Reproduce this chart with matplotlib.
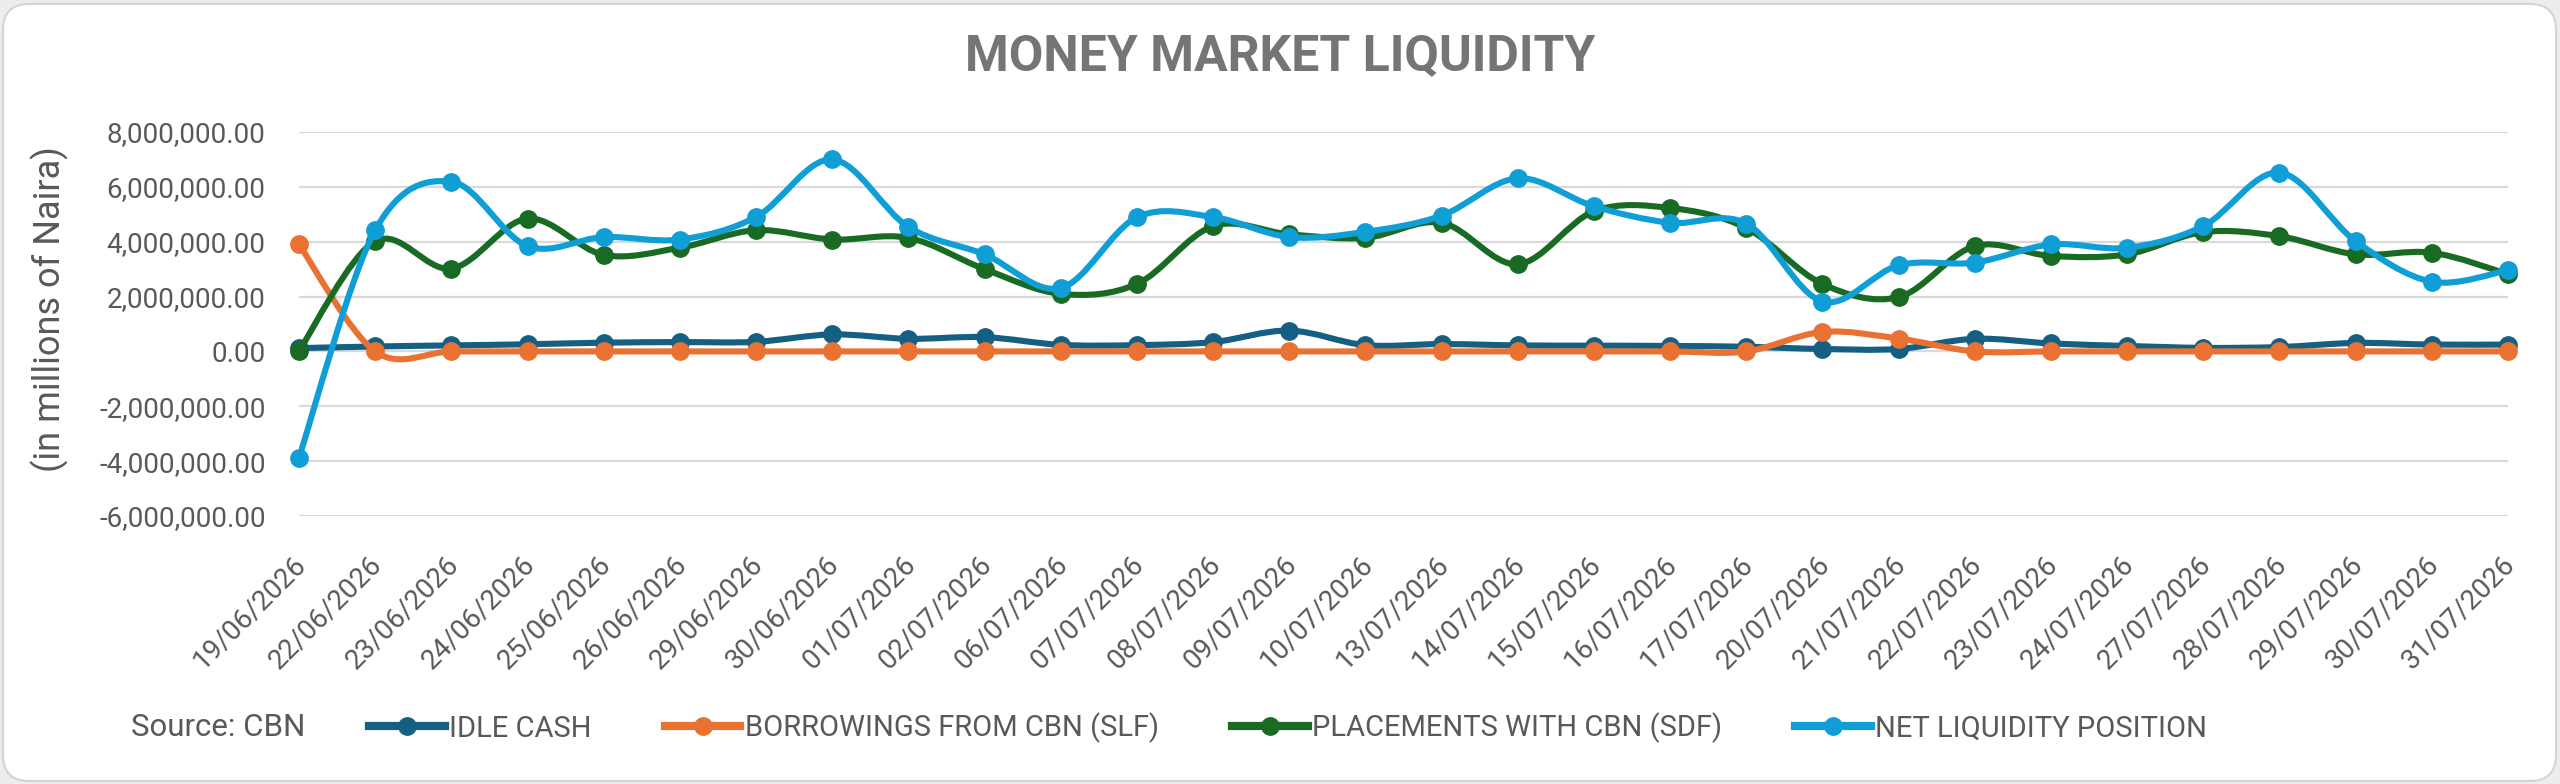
import matplotlib
matplotlib.use("Agg")
import matplotlib.pyplot as plt
from matplotlib.path import Path
from matplotlib.patches import PathPatch, FancyBboxPatch
from matplotlib.lines import Line2D
from matplotlib.ticker import FuncFormatter
import matplotlib.transforms as mtransforms

# ── data ──────────────────────────────────────────────────────────────────────
dates = [
    "19/06/2026", "22/06/2026", "23/06/2026", "24/06/2026", "25/06/2026",
    "26/06/2026", "29/06/2026", "30/06/2026", "01/07/2026", "02/07/2026",
    "06/07/2026", "07/07/2026", "08/07/2026", "09/07/2026", "10/07/2026",
    "13/07/2026", "14/07/2026", "15/07/2026", "16/07/2026", "17/07/2026",
    "20/07/2026", "21/07/2026", "22/07/2026", "23/07/2026", "24/07/2026",
    "27/07/2026", "28/07/2026", "29/07/2026", "30/07/2026", "31/07/2026",
]

idle_cash = [
    120000, 180000, 220000, 260000, 320000, 340000, 350000, 620000, 460000, 520000,
    240000, 230000, 340000, 760000, 230000, 270000, 220000, 210000, 200000, 170000,
    90000, 90000, 460000, 290000, 200000, 130000, 160000, 310000, 250000, 250000,
]

borrowings_slf = [
    3900000, 0, 0, 0, 0, 0, 0, 0, 0, 0,
    0, 0, 0, 0, 0, 0, 0, 0, 0, 0,
    710000, 470000, 0, 0, 0, 0, 0, 0, 0, 0,
]

placements_sdf = [
    20000, 4020000, 3020000, 4840000, 3520000, 3780000, 4420000, 4080000, 4140000, 3000000,
    2100000, 2460000, 4570000, 4270000, 4140000, 4690000, 3180000, 5110000, 5230000, 4500000,
    2460000, 1980000, 3840000, 3480000, 3540000, 4350000, 4200000, 3540000, 3600000, 2820000,
]

net_liquidity = [
    -3870000, 4420000, 6190000, 3840000, 4170000, 4080000, 4900000, 7000000, 4540000, 3540000,
    2310000, 4890000, 4900000, 4170000, 4360000, 4950000, 6310000, 5290000, 4690000, 4660000,
    1820000, 3140000, 3240000, 3900000, 3780000, 4570000, 6520000, 4020000, 2540000, 2960000,
]

series_labels = ["IDLE CASH", "BORROWINGS FROM CBN (SLF)",
                 "PLACEMENTS WITH CBN (SDF)", "NET LIQUIDITY POSITION"]
COLORS = ["#156082", "#E97132", "#196B24", "#0F9ED5"]

TEXT_C = "#595959"
FONT = "Roboto"
plt.rcParams["font.family"] = [FONT, "DejaVu Sans"]


def smooth_path(ys):
    """Excel-like smoothed line: Catmull-Rom as cubic Bezier segments."""
    n = len(ys)
    xs = list(range(n))
    verts = [(xs[0], ys[0])]
    codes = [Path.MOVETO]
    for i in range(n - 1):
        a = max(i - 1, 0)
        d = min(i + 2, n - 1)
        c1 = (xs[i] + (xs[i + 1] - xs[a]) / 6, ys[i] + (ys[i + 1] - ys[a]) / 6)
        c2 = (xs[i + 1] - (xs[d] - xs[i]) / 6, ys[i + 1] - (ys[d] - ys[i]) / 6)
        verts += [c1, c2, (xs[i + 1], ys[i + 1])]
        codes += [Path.CURVE4] * 3
    return Path(verts, codes)


fig = plt.figure(figsize=(25.6, 7.84), dpi=100, facecolor="#EDEDED")

# rounded chart frame
frame = FancyBboxPatch((3, 3), 2553, 777, boxstyle="round,pad=0,rounding_size=26",
                       transform=mtransforms.IdentityTransform(),
                       facecolor="white", edgecolor="#D4D4D4", linewidth=1.5, zorder=-5)
fig.patches.append(frame)

ax = fig.add_axes([299 / 2560, 268 / 784, 2209 / 2560, 384 / 784], zorder=2)
ax.set_facecolor("none")

LW = 4.4
MS = 12.5
all_series = [idle_cash, borrowings_slf, placements_sdf, net_liquidity]
for k, (vals, color) in enumerate(zip(all_series, COLORS)):
    ax.add_patch(PathPatch(smooth_path(vals), fill=False, edgecolor=color, lw=LW,
                           capstyle="round", joinstyle="round", zorder=3 + 2 * k))
    ax.plot(range(len(vals)), vals, "o", color=color, ms=MS, mec=color,
            ls="none", zorder=4 + 2 * k, clip_on=False)

ax.set_xlim(0, len(dates) - 1)
ax.set_ylim(-6000000, 8000000)
ax.set_yticks(range(-6000000, 8000001, 2000000))
ax.yaxis.set_major_formatter(FuncFormatter(lambda v, p: f"{v:,.2f}"))
ax.grid(axis="y", color="#D9D9D9", lw=1.6, zorder=1)
ax.set_axisbelow(True)
for s in ax.spines.values():
    s.set_visible(False)

ax.set_xticks(range(len(dates)))
ax.set_xticklabels(dates)
ax.tick_params(axis="y", length=0, pad=24, labelsize=20, labelcolor=TEXT_C)
ax.tick_params(axis="x", length=0, pad=32, labelsize=20, labelcolor=TEXT_C)
shift = mtransforms.ScaledTranslation(3 / 100, 0, fig.dpi_scale_trans)
for lab in ax.get_xticklabels():
    lab.set_rotation(45)
    lab.set_ha("right")
    lab.set_va("center")
    lab.set_rotation_mode("anchor")
    lab.set_transform(lab.get_transform() + shift)

# title, axis label, source
fig.text(0.5, 1 - 57 / 784, "MONEY MARKET LIQUIDITY", ha="center", va="center",
         fontsize=36, fontweight="bold", color="#757575")
fig.text(50 / 2560, 1 - 309 / 784, "(in millions of Naira)", rotation=90,
         ha="center", va="center", fontsize=26, color=TEXT_C)
fig.text(131 / 2560, 1 - 728 / 784, "Source: CBN", ha="left", va="center",
         fontsize=22.5, color=TEXT_C)

handles = [Line2D([], [], color=c, lw=LW + 1.5, marker="o", ms=MS, mec=c) for c in COLORS]
leg = fig.legend(handles, series_labels, loc="center left",
                 bbox_to_anchor=(369 / 2560, 1 - 728 / 784), ncol=4, frameon=False,
                 fontsize=21, handlelength=2.6, handletextpad=0.15, columnspacing=2.5,
                 borderpad=0, borderaxespad=0)
for t in leg.get_texts():
    t.set_color(TEXT_C)

fig.savefig("out.png", dpi=100, facecolor=fig.get_facecolor())
